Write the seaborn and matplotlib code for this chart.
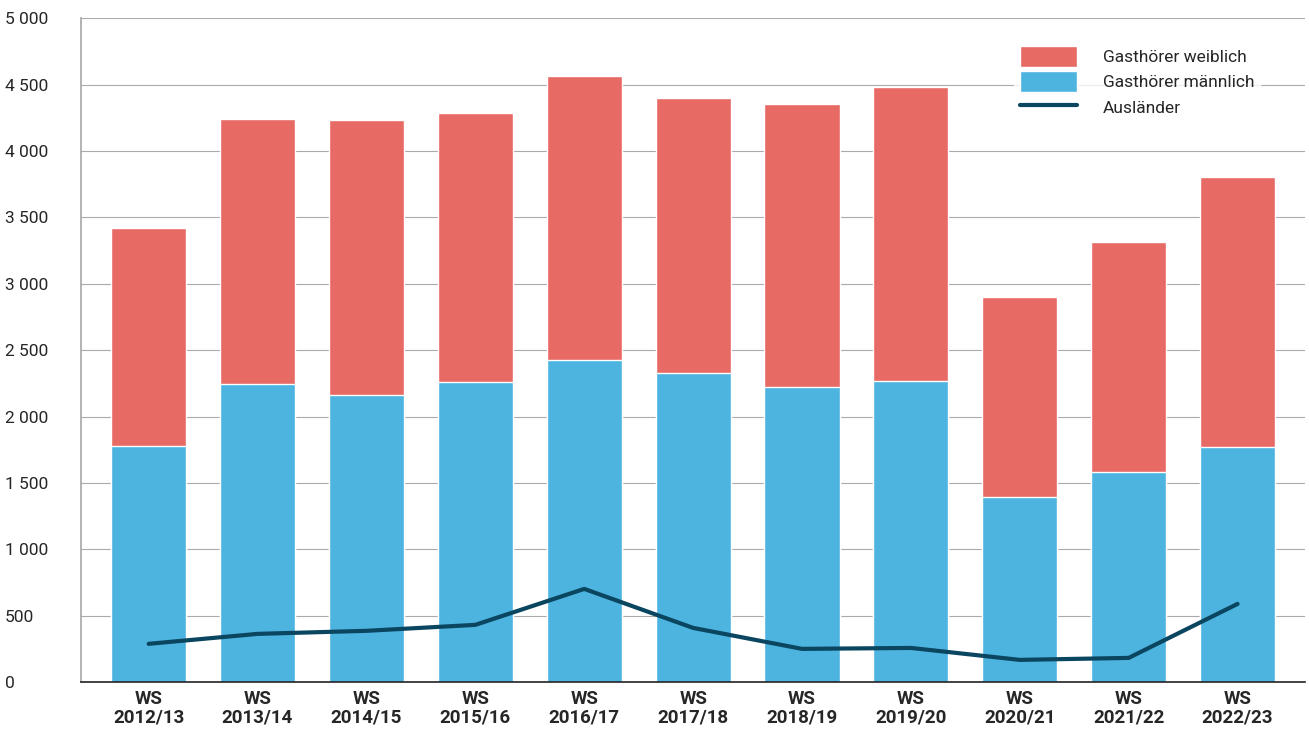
import matplotlib
matplotlib.use("Agg")
import matplotlib.pyplot as plt
import seaborn as sns
import pandas as pd

categories = ["WS\n2012/13","WS\n2013/14","WS\n2014/15","WS\n2015/16","WS\n2016/17","WS\n2017/18",
              "WS\n2018/19","WS\n2019/20","WS\n2020/21","WS\n2021/22","WS\n2022/23"]
total = [3424,4246,4231,4291,4570,4397,4359,4487,2903,3318,3808]
male = [1780,2247,2164,2262,2428,2330,2225,2270,1395,1584,1772]
auslaender = [287,362,385,430,701,407,249,256,166,181,588]

sns.set_theme(style="white")
plt.rcParams['font.family'] = ['Roboto', 'DejaVu Sans']

df = pd.DataFrame({"cat": categories, "total": total, "male": male, "aus": auslaender})
fig, ax = plt.subplots(figsize=(13.09, 7.38), dpi=100)
fig.subplots_adjust(left=0.062, right=0.997, top=0.975, bottom=0.076)

sns.barplot(data=df, x="cat", y="total", color="#E76A64", width=0.69, saturation=1, ax=ax,
            label="Gasthörer weiblich", zorder=2)
sns.barplot(data=df, x="cat", y="male", color="#4DB3DF", width=0.69, saturation=1, ax=ax,
            label="Gasthörer männlich", zorder=2)
for p in ax.patches:
    p.set_edgecolor("white"); p.set_linewidth(1)
sns.lineplot(x=range(len(categories)), y=auslaender, color="#0B4660", linewidth=3, ax=ax,
             label="Ausländer", zorder=3)

ax.set_ylim(0, 5000)
ax.set_xlim(-0.62, 10.62)
ax.set_yticks(range(0, 5001, 500))
ax.set_yticklabels([f"{v:,}".replace(",", " ") for v in range(0, 5001, 500)], fontsize=12.5)
ax.set_xticks(range(len(categories)))
ax.set_xticklabels(categories, fontsize=13.5, fontweight="bold", linespacing=1.0)
ax.tick_params(axis="x", length=0, pad=6)
ax.set_xlabel(""); ax.set_ylabel("")
ax.yaxis.grid(True, color="#AAAAAA", linewidth=0.8, zorder=0)
ax.set_axisbelow(True)
for s in ["top", "right"]:
    ax.spines[s].set_visible(False)
ax.spines["left"].set_color("#AAAAAA")
ax.spines["bottom"].set_color("#222222")
ax.spines["bottom"].set_linewidth(1.2)
for lab in ax.get_yticklabels():
    lab.set_horizontalalignment("left")
ax.yaxis.set_tick_params(length=0, pad=55)

h, l = ax.get_legend_handles_labels()
order = [l.index("Gasthörer weiblich"), l.index("Gasthörer männlich"), l.index("Ausländer")]
leg = ax.legend([h[i] for i in order], [l[i] for i in order], loc="upper right",
                bbox_to_anchor=(0.97, 0.98), frameon=True, fontsize=12.5,
                handlelength=3.3, handleheight=1.5, borderpad=0.3, labelspacing=0.25, handletextpad=1.5)
leg.get_frame().set_facecolor("white"); leg.get_frame().set_edgecolor("white")
fig.savefig("out.png", dpi=100)
